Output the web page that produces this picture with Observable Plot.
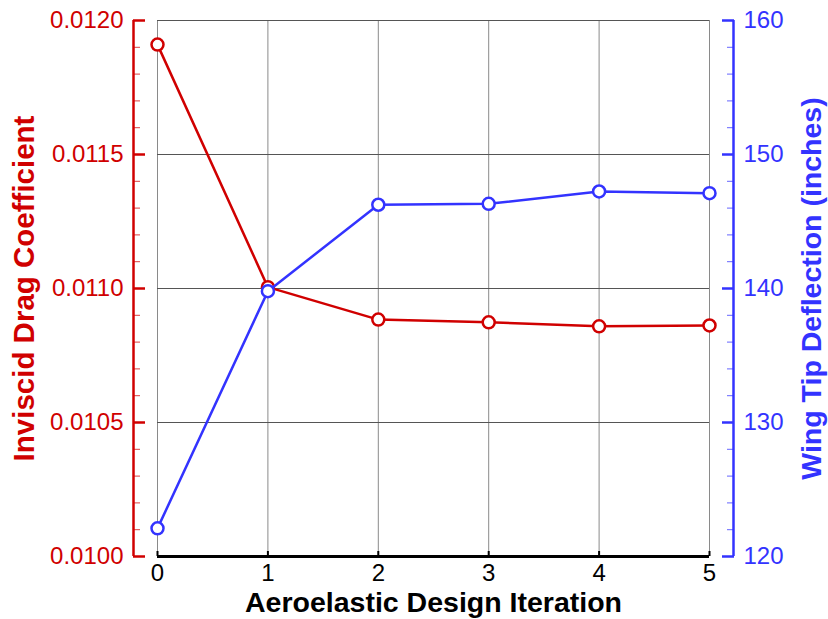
<!DOCTYPE html>
<html>
<head>
<meta charset="utf-8">
<script src="https://cdn.jsdelivr.net/npm/d3@7"></script>
<script src="https://cdn.jsdelivr.net/npm/@observablehq/plot@0.6"></script>
<style>
  html, body { margin: 0; padding: 0; background: #fff; }
</style>
</head>
<body>
<div id="chart"></div>
<script>
const iterations = [0, 1, 2, 3, 4, 5];
const dragCoefficient = [0.011910, 0.011005, 0.010884, 0.010874, 0.010859, 0.010862];
const tipDeflection = [122.1, 139.8, 146.25, 146.32, 147.24, 147.11];
const dragTicks = [0.0100, 0.0105, 0.0110, 0.0115, 0.0120];
const dragMinorTicks = d3.range(0, 21).map(i => 0.0100 + i * 0.0001);
const deflectionTicks = [120, 130, 140, 150, 160];
const deflectionMinorTicks = d3.range(120, 161, 2);

const RED = "#d00000";
const BLUE = "#3333ff";

// map deflection (right axis) into the drag-coefficient scale
const defMin = deflectionTicks[0], defMax = deflectionTicks[deflectionTicks.length - 1];
const dragMin = dragTicks[0], dragMax = dragTicks[dragTicks.length - 1];
const toDrag = v => dragMin + (v - defMin) / (defMax - defMin) * (dragMax - dragMin);
const fromDrag = v => defMin + (v - dragMin) / (dragMax - dragMin) * (defMax - defMin);

const dragData = iterations.map((it, i) => ({it, v: dragCoefficient[i]}));
const defData = iterations.map((it, i) => ({it, v: toDrag(tipDeflection[i])}));

const xFirst = iterations[0], xLast = iterations[iterations.length - 1];

const chart = Plot.plot({
  width: 828,
  height: 619,
  marginLeft: 157,
  marginRight: 119,
  marginTop: 20,
  marginBottom: 63,
  style: {fontFamily: "'Liberation Sans', Arial, Helvetica, sans-serif", background: "white", overflow: "visible"},
  x: {domain: [xFirst, xLast], axis: null},
  y: {domain: [dragMin, dragMax], axis: null},
  marks: [
    // grid
    Plot.gridX(iterations, {stroke: "#8a8a8a", strokeOpacity: 1, strokeWidth: 1}),
    Plot.gridY(dragTicks.slice(1), {stroke: "#555", strokeOpacity: 1, strokeWidth: 1}),
    // bottom axis
    Plot.ruleY([dragMin], {stroke: "black", strokeWidth: 3}),
    Plot.axisX(iterations, {anchor: "bottom", tickSize: -5, strokeWidth: 2, tickFormat: () => "", label: null, color: "black"}),
    Plot.axisX(iterations, {anchor: "bottom", tickSize: 0, tickPadding: 7, fontSize: 24, label: null, color: "black", tickFormat: d => String(d)}),
    Plot.text(["Aeroelastic Design Iteration"], {frameAnchor: "bottom", dy: 46, lineAnchor: "middle", fontSize: 28.5, fontWeight: "bold", fill: "black", textAnchor: "middle"}),
    // left (red) axis
    Plot.ruleX([xFirst], {y1: dragMin, y2: dragMax, dx: -24, stroke: RED, strokeWidth: 2.5}),
    Plot.axisY(dragMinorTicks, {anchor: "left", dx: -24, tickSize: -7, strokeWidth: 1, color: RED, strokeOpacity: 0.75, tickFormat: () => "", label: null}),
    Plot.axisY(dragTicks, {anchor: "left", dx: -24, tickSize: -12, strokeWidth: 2.5, color: RED, tickFormat: () => "", label: null}),
    Plot.axisY(dragTicks, {anchor: "left", dx: -24, tickSize: 0, tickPadding: 10, fontSize: 24, color: RED, tickFormat: d3.format(".4f"), label: null}),
    Plot.text(["Inviscid Drag Coefficient"], {frameAnchor: "left", dx: -133, rotate: -90, lineAnchor: "middle", fontSize: 29.5, fontWeight: "bold", fill: RED, textAnchor: "middle"}),
    // right (blue) axis
    Plot.ruleX([xLast], {y1: dragMin, y2: dragMax, dx: 24, stroke: BLUE, strokeWidth: 2.5}),
    Plot.axisY(deflectionMinorTicks.map(toDrag), {anchor: "right", dx: 24, tickSize: -7, strokeWidth: 1, color: BLUE, strokeOpacity: 0.75, tickFormat: () => "", label: null}),
    Plot.axisY(deflectionTicks.map(toDrag), {anchor: "right", dx: 24, tickSize: -12, strokeWidth: 2.5, color: BLUE, tickFormat: () => "", label: null}),
    Plot.axisY(deflectionTicks.map(toDrag), {anchor: "right", dx: 24, tickSize: 0, tickPadding: 10, fontSize: 24, color: BLUE, tickFormat: d => String(Math.round(fromDrag(d))), label: null}),
    Plot.text(["Wing Tip Deflection (inches)"], {frameAnchor: "right", dx: 102, rotate: -90, lineAnchor: "middle", fontSize: 28.5, fontWeight: "bold", fill: BLUE, textAnchor: "middle"}),
    // series
    Plot.line(dragData, {x: "it", y: "v", stroke: RED, strokeWidth: 2.5}),
    Plot.dot(dragData, {x: "it", y: "v", r: 6, fill: "white", stroke: RED, strokeWidth: 2.5}),
    Plot.line(defData, {x: "it", y: "v", stroke: BLUE, strokeWidth: 2.5}),
    Plot.dot(defData, {x: "it", y: "v", r: 6, fill: "white", stroke: BLUE, strokeWidth: 2.5})
  ]
});
document.getElementById("chart").appendChild(chart);
</script>
</body>
</html>
